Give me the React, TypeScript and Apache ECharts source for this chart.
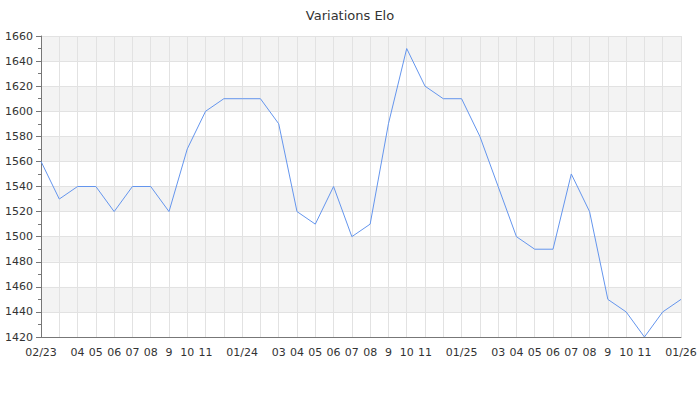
import React, { useEffect, useRef } from "react";
import * as echarts from "echarts";

const months: string[] = [
  "02/23", "", "04", "05", "06", "07", "08", "9", "10", "11", "", "01/24",
  "", "03", "04", "05", "06", "07", "08", "9", "10", "11", "", "01/25",
  "", "03", "04", "05", "06", "07", "08", "9", "10", "11", "", "01/26",
];

const elo: number[] = [
  1560, 1530, 1540, 1540, 1520, 1540, 1540, 1520, 1570, 1600, 1610, 1610,
  1610, 1590, 1520, 1510, 1540, 1500, 1510, 1590, 1650, 1620, 1610, 1610,
  1580, 1540, 1500, 1490, 1490, 1550, 1520, 1450, 1440, 1420, 1440, 1450,
];

const yMin = 1420;
const yMax = 1660;
const yStep = 20;

export default function App() {
  const ref = useRef<HTMLDivElement>(null);
  useEffect(() => {
    if (!ref.current) return;
    const chart = echarts.init(ref.current, undefined, { renderer: "svg" });
    const font = "DejaVu Sans";
    chart.setOption({
      animation: false,
      backgroundColor: "#ffffff",
      title: {
        text: "Variations Elo",
        left: "center",
        top: 4,
        textStyle: { fontFamily: font, fontSize: 13, fontWeight: "normal", color: "#333" },
      },
      grid: { left: 41, right: 19, top: 36, bottom: 63, containLabel: false },
      xAxis: {
        type: "category",
        data: months.map((m, i) => String(i)),
        boundaryGap: false,
        axisLine: { show: true, lineStyle: { color: "#777", width: 1 } },
        axisTick: { show: false },
        axisLabel: {
          interval: 0,
          fontFamily: font,
          fontSize: 11,
          color: "#333",
          margin: 10,
          formatter: (_v: string, i: number) => months[i],
        },
        splitLine: { show: true, interval: 0, lineStyle: { color: "#e2e2e2", width: 1 } },
      },
      yAxis: {
        type: "value",
        min: yMin,
        max: yMax,
        interval: yStep,
        axisLine: { show: true, lineStyle: { color: "#777", width: 1 } },
        axisTick: { show: true, length: 5, lineStyle: { color: "#777" } },
        minorTick: { show: true, splitNumber: 2, length: 3, lineStyle: { color: "#777" } },
        axisLabel: {
          fontFamily: font,
          fontSize: 11,
          color: "#333",
          margin: 8,
          formatter: (v: number) => String(v),
        },
        splitLine: { show: true, lineStyle: { color: "#e2e2e2", width: 1 } },
        splitArea: { show: true, areaStyle: { color: ["#ffffff", "#f3f3f3"] } },
      },
      series: [
        {
          type: "line",
          data: elo,
          showSymbol: false,
          symbol: "none",
          lineStyle: { color: "#6495ed", width: 1 },
          itemStyle: { color: "#6495ed" },
        },
      ],
    });
    return () => chart.dispose();
  }, []);
  return (
    <div
      ref={ref}
      style={{ position: "fixed", left: 0, top: 0, width: 700, height: 400, background: "#fff" }}
    />
  );
}
